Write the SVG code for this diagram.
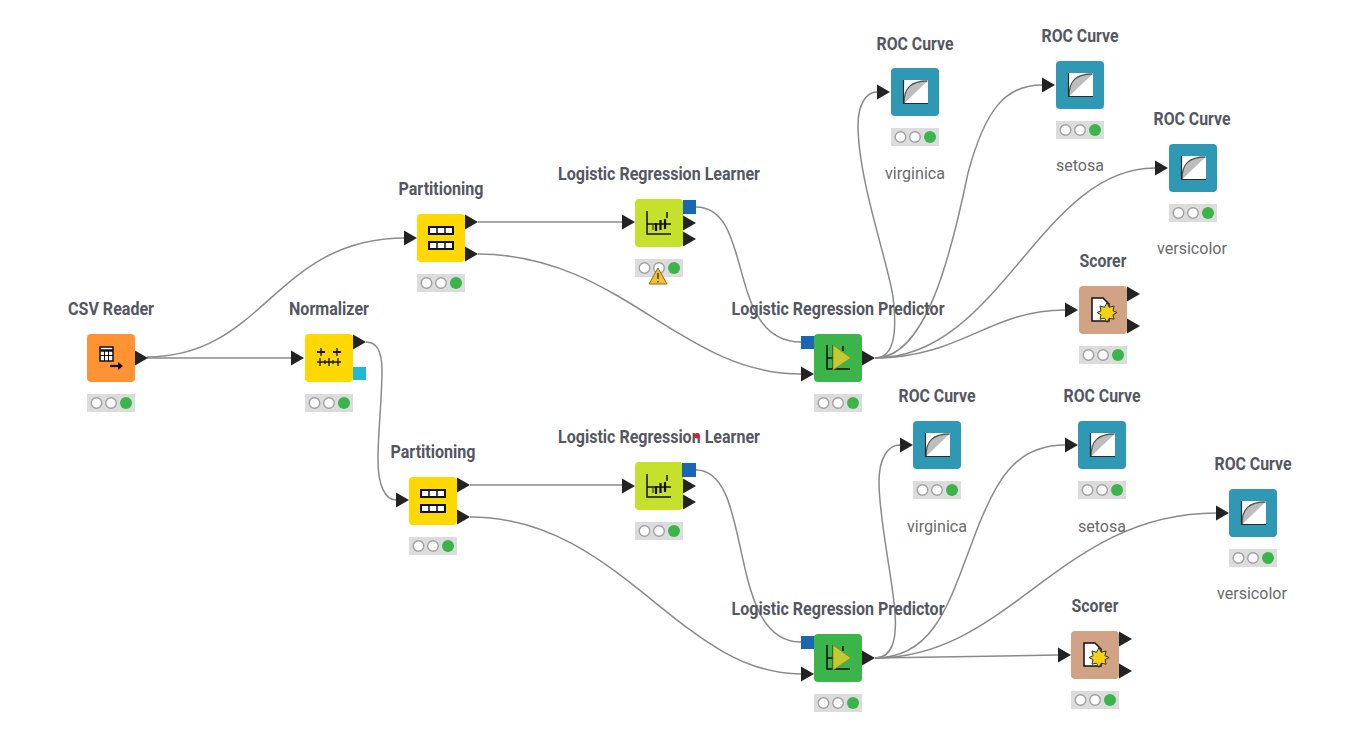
<svg xmlns="http://www.w3.org/2000/svg" width="1366" height="736" viewBox="0 0 1366 736">
<style>
text{font-family:Roboto,"Liberation Sans",sans-serif}
.t{font-size:17.5px;font-weight:700;fill:#54575f;text-anchor:middle}
.a{font-size:17px;fill:#6a6a6a;text-anchor:middle}
.c{fill:none;stroke:#8a8a8a;stroke-width:1.500}
.b{rx:4px;ry:4px}
.p{fill:#232323}
.blue{fill:#1a66b3}
.ic{fill:none;stroke:#111;stroke-width:1.500}
</style>
<defs>
<path id="tri" class="p" d="M0-7.500L13 0L0 7.500Z"/>
<g id="st"><rect width="48" height="18" fill="#dcdcdc"/><circle cx="9.500" cy="9" r="5.300" fill="#fff" stroke="#a0a0a0" stroke-width="1.400"/><circle cx="24" cy="9" r="5.300" fill="#fff" stroke="#a0a0a0" stroke-width="1.400"/><circle cx="39" cy="9" r="6" fill="#3bb54a"/></g>
<g id="part"><rect x="12" y="13" width="24" height="7" fill="#fff" stroke="#111" stroke-width="2"/><rect x="12" y="28" width="24" height="7" fill="#fff" stroke="#111" stroke-width="2"/><path class="ic" d="M20 13v7M28 13v7M20 28v7M28 28v7"/></g>
<g id="lrl"><path class="ic" d="M12 12V35H36M12 25H36"/><path d="M32 13V19" stroke="#111" stroke-width="1.500"/><path d="M21 24V32M25.500 21V31M30 20V30" stroke="#111" stroke-width="2.200"/><path d="M18 26V31" stroke="#555" stroke-width="1.500"/></g>
<g id="lrp"><path class="ic" d="M13 11V35H36M13 24H19M19 11V36M29 12V17"/><path d="M19 11L37 24L19 36Z" fill="#c2cc32" stroke="#86912a" stroke-width="1"/></g>
<g id="roc"><rect x="12" y="12" width="25" height="24" fill="#fff"/><path d="M13 35.500C13 20 20 13 36.500 13L13 35.500Z" fill="#bdbdbd"/><path d="M13 35C13 20 20 13 36.500 13" fill="none" stroke="#555" stroke-width="1.300"/><path d="M12.500 12V35.500H37" fill="none" stroke="#2a2a2a" stroke-width="1.200"/></g>
<g id="sc"><path d="M13 12H24L30 18V35H13Z" fill="#fff" stroke="#111" stroke-width="1.500"/><path d="M28 16.500l2.200 4.800 4.800-1.300-1 4.800 4 1.700-4 2.200 1 4.500-4.800-1-2.200 4.300-2.400-4.300-4.600 1 1-4.500-3.900-2.200 3.900-1.700-1-4.800 4.600 1.300Z" fill="#f5d116" stroke="#333" stroke-width="1"/></g>
</defs>
<rect width="1366" height="736" fill="#fff"/>
<g id="connectors">
<path class="c" d="M147 358H291"/>
<path class="c" d="M147 357C265 357 275 238 405 238"/>
<path class="c" d="M366 342C376 342 382 350 382 370C382 400 378 430 378 460C378 485 385 500 396 500"/>
<path class="c" d="M478 222H622"/>
<path class="c" d="M478 254C620 254 680 374 801 374"/>
<path class="c" d="M696 207C755 207 725 342 801 342"/>
<path class="c" d="M875 358C895 358 897 330 893 297C888 262 858 180 858 125C858 105 866 92 877 92"/>
<path class="c" d="M875 358C925 358 950 260 968 173C985 110 1005 85 1042 85"/>
<path class="c" d="M875 358C1000 358 1040 168 1155 168"/>
<path class="c" d="M875 358C960 358 990 310 1065 310"/>
<path class="c" d="M470 485H622"/>
<path class="c" d="M470 517C620 517 680 674 801 674"/>
<path class="c" d="M696 470C755 470 725 642 801 642"/>
<path class="c" d="M875 658C892 658 897 640 895 613C893 580 879 520 879 482C879 458 888 445 900 445"/>
<path class="c" d="M875 658C935 658 950 600 973 540C995 480 1015 445 1065 445"/>
<path class="c" d="M875 658C1010 658 1060 513 1216 513"/>
<path class="c" d="M875 658L1058 655"/>
</g>
<g id="csv-reader"><text class="t" x="111" y="315" textLength="86" lengthAdjust="spacingAndGlyphs">CSV Reader</text><rect class="b" x="87" y="334" width="48" height="48" fill="#ff9232"/><g transform="translate(87 334)"><rect x="13" y="13" width="13" height="14" fill="#fff" stroke="#111" stroke-width="1.500"/><path d="M13 16.500H26" stroke="#111" stroke-width="2.500"/><path d="M13 21.500H26M17.500 17V27M21.500 17V27" stroke="#111" fill="none"/><path d="M23 32H32" stroke="#111" stroke-width="2.200"/><path d="M31 28L36 32L31 36Z" fill="#111"/></g><use href="#tri" transform="translate(135 358)"/><use href="#st" x="87" y="394"/></g>
<g id="normalizer"><text class="t" x="329" y="315" textLength="80" lengthAdjust="spacingAndGlyphs">Normalizer</text><rect class="b" x="305" y="334" width="48" height="48" fill="#ffd800"/><g transform="translate(305 334)"><path d="M12 28H36M15 24V32M20 26V30M24 24V32M28 26V30M33 24V32M16 14V22M32 14V22" stroke="#111" stroke-width="1.300" fill="none"/><path d="M12 18H20M28 18H36" stroke="#111" stroke-width="2.200"/></g><use href="#tri" transform="translate(291 358)"/><use href="#tri" transform="translate(353 342)"/><rect x="353" y="367" width="13" height="13" fill="#21b7d6"/><use href="#st" x="305" y="394"/></g>
<g id="partitioning-1"><text class="t" x="441" y="195" textLength="85" lengthAdjust="spacingAndGlyphs">Partitioning</text><use href="#tri" transform="translate(404 238)"/><rect class="b" x="417" y="214" width="48" height="48" fill="#ffd800"/><use href="#part" x="417" y="214"/><use href="#tri" transform="translate(465 222)"/><use href="#tri" transform="translate(465 254)"/><use href="#st" x="417" y="274"/></g>
<g id="lr-learner-1"><text class="t" x="659" y="180" textLength="202" lengthAdjust="spacingAndGlyphs">Logistic Regression Learner</text><use href="#tri" transform="translate(622 222)"/><rect class="b" x="635" y="199" width="48" height="48" fill="#c5e12b"/><use href="#lrl" x="635" y="199"/><rect class="blue" x="683" y="200" width="13" height="14"/><use href="#tri" transform="translate(683 223)"/><use href="#tri" transform="translate(683 239)"/><use href="#st" x="635" y="259"/><path d="M658 268L667 284H649Z" fill="#f3c32f" stroke="#8a6d1a" stroke-width="1"/><path d="M658 273V279M658 281V282.500" stroke="#333" stroke-width="1.400"/></g>
<g id="lr-predictor-1"><text class="t" x="838" y="315" textLength="213" lengthAdjust="spacingAndGlyphs">Logistic Regression Predictor</text><rect class="blue" x="801" y="336" width="14" height="13"/><use href="#tri" transform="translate(801 374)"/><rect class="b" x="814" y="334" width="48" height="48" fill="#3bb54a"/><use href="#lrp" x="814" y="334"/><use href="#tri" transform="translate(862 358)"/><use href="#st" x="814" y="394"/></g>
<g id="roc-1"><text class="t" x="915" y="50" textLength="77" lengthAdjust="spacingAndGlyphs">ROC Curve</text><use href="#tri" transform="translate(877 92)"/><rect class="b" x="891" y="68" width="48" height="48" fill="#2f98b5"/><use href="#roc" x="891" y="68"/><use href="#st" x="891" y="128"/><text class="a" x="915" y="179" textLength="60" lengthAdjust="spacingAndGlyphs">virginica</text></g>
<g id="roc-2"><text class="t" x="1080" y="42" textLength="77" lengthAdjust="spacingAndGlyphs">ROC Curve</text><use href="#tri" transform="translate(1042 85)"/><rect class="b" x="1056" y="61" width="48" height="48" fill="#2f98b5"/><use href="#roc" x="1056" y="61"/><use href="#st" x="1056" y="121"/><text class="a" x="1080" y="171" textLength="48" lengthAdjust="spacingAndGlyphs">setosa</text></g>
<g id="roc-3"><text class="t" x="1192" y="125" textLength="77" lengthAdjust="spacingAndGlyphs">ROC Curve</text><use href="#tri" transform="translate(1155 168)"/><rect class="b" x="1169" y="144" width="48" height="48" fill="#2f98b5"/><use href="#roc" x="1169" y="144"/><use href="#st" x="1169" y="204"/><text class="a" x="1192" y="254" textLength="70" lengthAdjust="spacingAndGlyphs">versicolor</text></g>
<g id="scorer-1"><text class="t" x="1103" y="267" textLength="47" lengthAdjust="spacingAndGlyphs">Scorer</text><use href="#tri" transform="translate(1065 310)"/><rect class="b" x="1079" y="286" width="48" height="48" fill="#d1a283"/><use href="#sc" x="1079" y="286"/><use href="#tri" transform="translate(1127 294)"/><use href="#tri" transform="translate(1127 326)"/><use href="#st" x="1079" y="346"/></g>
<g id="partitioning-2"><text class="t" x="433" y="458" textLength="85" lengthAdjust="spacingAndGlyphs">Partitioning</text><use href="#tri" transform="translate(396 500)"/><rect class="b" x="409" y="477" width="48" height="48" fill="#ffd800"/><use href="#part" x="409" y="477"/><use href="#tri" transform="translate(457 485)"/><use href="#tri" transform="translate(457 517)"/><use href="#st" x="409" y="537"/></g>
<g id="lr-learner-2"><text class="t" x="659" y="443" textLength="202" lengthAdjust="spacingAndGlyphs">Logistic Regression Learner</text><circle cx="697" cy="436" r="2.500" fill="#e8192c"/><use href="#tri" transform="translate(622 486)"/><rect class="b" x="635" y="462" width="48" height="48" fill="#c5e12b"/><use href="#lrl" x="635" y="462"/><rect class="blue" x="682" y="463" width="14" height="14"/><use href="#tri" transform="translate(683 486)"/><use href="#tri" transform="translate(683 502)"/><use href="#st" x="635" y="522"/></g>
<g id="lr-predictor-2"><text class="t" x="838" y="615" textLength="213" lengthAdjust="spacingAndGlyphs">Logistic Regression Predictor</text><rect class="blue" x="801" y="636" width="14" height="13"/><use href="#tri" transform="translate(801 674)"/><rect class="b" x="814" y="634" width="48" height="48" fill="#3bb54a"/><use href="#lrp" x="814" y="634"/><use href="#tri" transform="translate(862 658)"/><use href="#st" x="814" y="694"/></g>
<g id="roc-4"><text class="t" x="937" y="402" textLength="77" lengthAdjust="spacingAndGlyphs">ROC Curve</text><use href="#tri" transform="translate(900 445)"/><rect class="b" x="913" y="421" width="48" height="48" fill="#2f98b5"/><use href="#roc" x="913" y="421"/><use href="#st" x="913" y="481"/><text class="a" x="937" y="532" textLength="60" lengthAdjust="spacingAndGlyphs">virginica</text></g>
<g id="roc-5"><text class="t" x="1102" y="402" textLength="77" lengthAdjust="spacingAndGlyphs">ROC Curve</text><use href="#tri" transform="translate(1065 445)"/><rect class="b" x="1078" y="421" width="48" height="48" fill="#2f98b5"/><use href="#roc" x="1078" y="421"/><use href="#st" x="1078" y="481"/><text class="a" x="1102" y="532" textLength="48" lengthAdjust="spacingAndGlyphs">setosa</text></g>
<g id="roc-6"><text class="t" x="1253" y="470" textLength="77" lengthAdjust="spacingAndGlyphs">ROC Curve</text><use href="#tri" transform="translate(1216 513)"/><rect class="b" x="1229" y="489" width="48" height="48" fill="#2f98b5"/><use href="#roc" x="1229" y="489"/><use href="#st" x="1229" y="549"/><text class="a" x="1252" y="599" textLength="70" lengthAdjust="spacingAndGlyphs">versicolor</text></g>
<g id="scorer-2"><text class="t" x="1095" y="612" textLength="47" lengthAdjust="spacingAndGlyphs">Scorer</text><use href="#tri" transform="translate(1058 655)"/><rect class="b" x="1071" y="631" width="48" height="48" fill="#d1a283"/><use href="#sc" x="1071" y="631"/><use href="#tri" transform="translate(1119 639)"/><use href="#tri" transform="translate(1119 671)"/><use href="#st" x="1071" y="691"/></g>
</svg>
